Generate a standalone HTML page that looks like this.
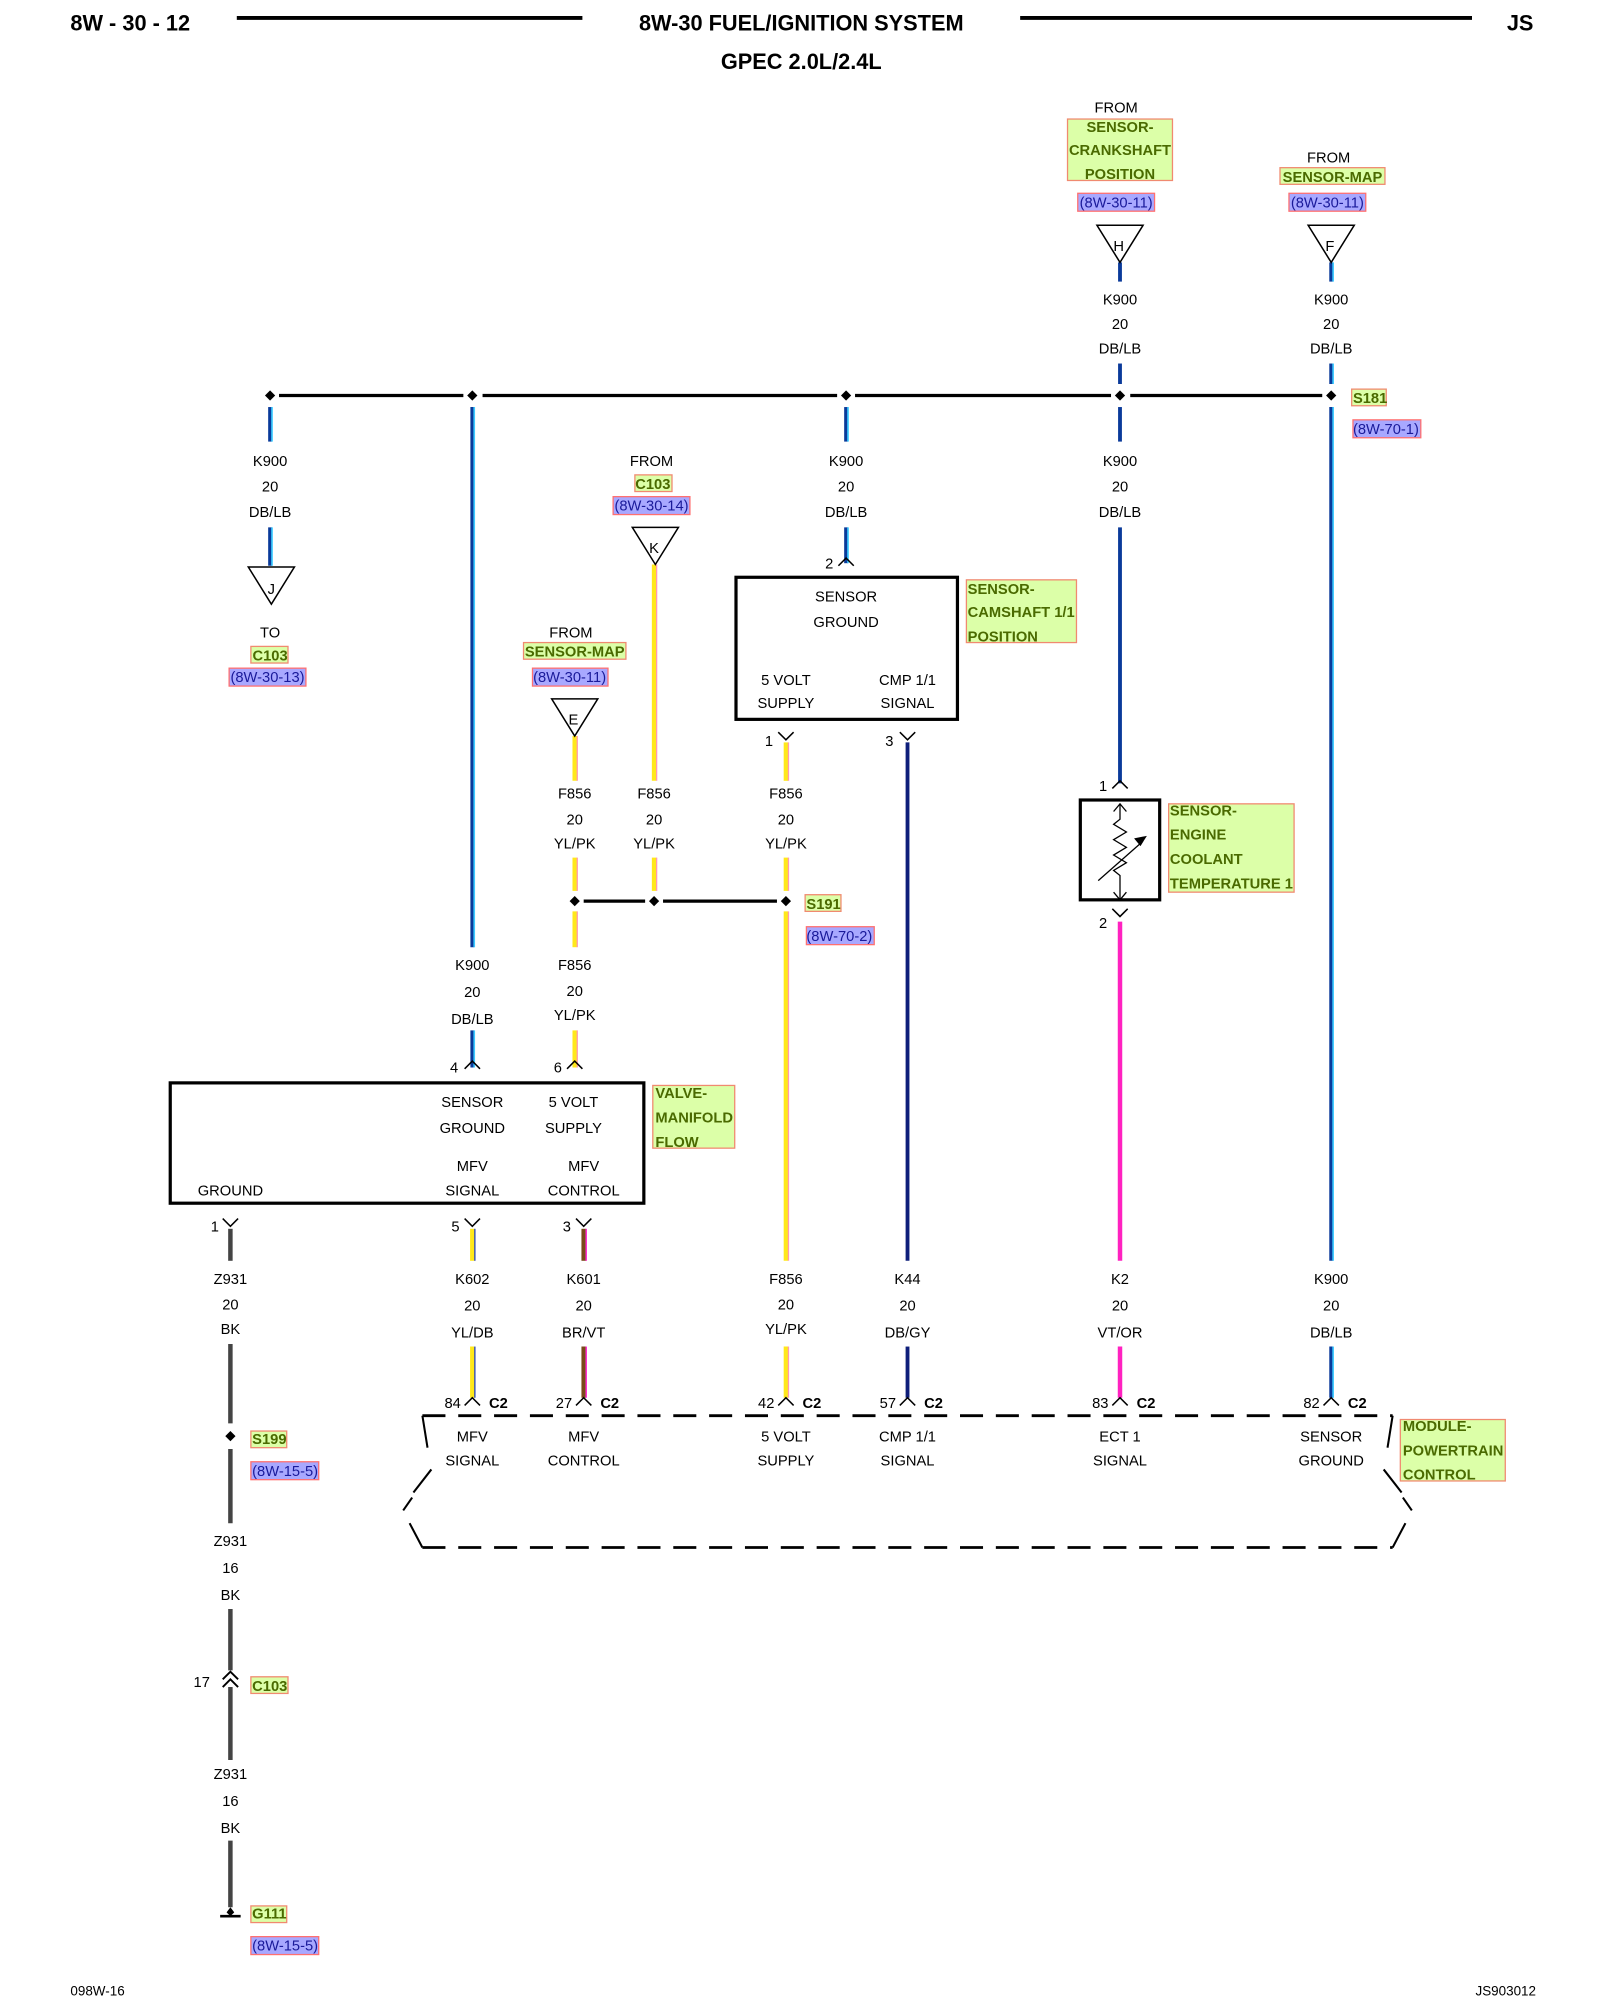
<!DOCTYPE html>
<html><head><meta charset="utf-8"><style>
html,body{margin:0;padding:0;background:#fff;}
svg{display:block;}
text{font-family:"Liberation Sans",Arial,sans-serif;font-size:11.5px;fill:#000;text-anchor:middle;}
.h{font-weight:bold;font-size:17px;}
.g{font-weight:bold;fill:#4a6a00;text-anchor:start;}
.gc{font-weight:bold;fill:#4a6a00;}
.b{fill:#1a1a9a;text-anchor:start;}
.bc{fill:#1a1a9a;}
.l{text-anchor:start;}
.e{text-anchor:end;}
.c2{font-weight:bold;text-anchor:start;}
.gr{fill:#dcffa8;stroke:#f08a70;stroke-width:1;}
.br{fill:#a8a8ff;stroke:#ff7070;stroke-width:1;}
.k{stroke:#000;fill:none;}
</style></head><body>
<svg width="1600" height="2000" viewBox="0 0 1250 1562.5" preserveAspectRatio="none" xmlns="http://www.w3.org/2000/svg">
<text x="55" y="24" class="h" style="text-anchor:start">8W - 30 - 12</text>
<line x1="185" y1="14" x2="455" y2="14" stroke="#000" stroke-width="3"/>
<text x="626" y="24" class="h">8W-30 FUEL/IGNITION SYSTEM</text>
<line x1="797" y1="14" x2="1150" y2="14" stroke="#000" stroke-width="3"/>
<text x="1198" y="24" class="h" style="text-anchor:end">JS</text>
<text x="626" y="54" class="h">GPEC 2.0L/2.4L</text>

<g stroke="#000" stroke-width="2.5">
<line x1="218" y1="309" x2="362" y2="309"/>
<line x1="377" y1="309" x2="654" y2="309"/>
<line x1="668" y1="309" x2="868" y2="309"/>
<line x1="883" y1="309" x2="1033" y2="309"/>
<line x1="456" y1="704" x2="504" y2="704"/>
<line x1="518" y1="704" x2="607" y2="704"/>
</g>
<g fill="#000">
<path d="M211 305l4 4-4 4-4-4z"/><path d="M369 305l4 4-4 4-4-4z"/><path d="M661 305l4 4-4 4-4-4z"/>
<path d="M875 305l4 4-4 4-4-4z"/><path d="M1040 305l4 4-4 4-4-4z"/>
<path d="M449 700l4 4-4 4-4-4z"/><path d="M511 700l4 4-4 4-4-4z"/><path d="M614 700l4 4-4 4-4-4z"/>
<path d="M180 1118l4 4-4 4-4-4z"/>
</g>

<g stroke="#0a3a9a" stroke-width="3">
<line x1="875" y1="205" x2="875" y2="220"/><line x1="875" y1="284" x2="875" y2="300"/>
<line x1="1040" y1="205" x2="1040" y2="220"/><line x1="1040" y1="284" x2="1040" y2="300"/>
<line x1="211" y1="318" x2="211" y2="345"/><line x1="211" y1="412" x2="211" y2="442"/>
<line x1="369" y1="318" x2="369" y2="740"/><line x1="369" y1="805" x2="369" y2="834"/>
<line x1="661" y1="318" x2="661" y2="345"/><line x1="661" y1="412" x2="661" y2="440"/>
<line x1="875" y1="318" x2="875" y2="345"/><line x1="875" y1="412" x2="875" y2="612"/>
<line x1="1040" y1="318" x2="1040" y2="985"/><line x1="1040" y1="1052" x2="1040" y2="1092"/>
</g>
<g stroke="#3ccaff" stroke-width="1.3">
<line x1="1041.5" y1="205" x2="1041.5" y2="220"/><line x1="1041.5" y1="284" x2="1041.5" y2="300"/>
<line x1="212.5" y1="318" x2="212.5" y2="345"/><line x1="212.5" y1="412" x2="212.5" y2="442"/>
<line x1="370.5" y1="318" x2="370.5" y2="740"/><line x1="370.5" y1="805" x2="370.5" y2="834"/>
<line x1="662.5" y1="318" x2="662.5" y2="345"/><line x1="662.5" y1="412" x2="662.5" y2="440"/>
<line x1="1041.5" y1="318" x2="1041.5" y2="985"/><line x1="1041.5" y1="1052" x2="1041.5" y2="1092"/>
</g>
<g stroke="#ffe81a" stroke-width="3.5">
<line x1="511" y1="441" x2="511" y2="610"/><line x1="511" y1="670" x2="511" y2="696"/>
<line x1="449" y1="575" x2="449" y2="610"/><line x1="449" y1="670" x2="449" y2="696"/><line x1="449" y1="712" x2="449" y2="740"/><line x1="449" y1="805" x2="449" y2="834"/>
<line x1="614" y1="580" x2="614" y2="610"/><line x1="614" y1="670" x2="614" y2="696"/><line x1="614" y1="712" x2="614" y2="985"/><line x1="614" y1="1052" x2="614" y2="1092"/>
</g>
<g stroke="#ff9ab0" stroke-width="1">
<line x1="513" y1="441" x2="513" y2="610"/><line x1="513" y1="670" x2="513" y2="696"/>
<line x1="451" y1="575" x2="451" y2="610"/><line x1="451" y1="670" x2="451" y2="696"/><line x1="451" y1="712" x2="451" y2="740"/><line x1="451" y1="805" x2="451" y2="834"/>
<line x1="616" y1="580" x2="616" y2="610"/><line x1="616" y1="670" x2="616" y2="696"/><line x1="616" y1="712" x2="616" y2="985"/><line x1="616" y1="1052" x2="616" y2="1092"/>
</g>
<g stroke="#0e1e7a" stroke-width="3"><line x1="709" y1="580" x2="709" y2="985"/><line x1="709" y1="1052" x2="709" y2="1092"/></g>
<g stroke="#ff22c0" stroke-width="3.5"><line x1="875" y1="720" x2="875" y2="985"/><line x1="875" y1="1052" x2="875" y2="1092"/></g>
<g stroke="#ffe81a" stroke-width="3.5"><line x1="369" y1="960" x2="369" y2="985"/><line x1="369" y1="1052" x2="369" y2="1092"/></g>
<g stroke="#2040c0" stroke-width="1"><line x1="371" y1="960" x2="371" y2="985"/><line x1="371" y1="1052" x2="371" y2="1092"/></g>
<g stroke="#7a4a1a" stroke-width="3.5"><line x1="456" y1="960" x2="456" y2="985"/><line x1="456" y1="1052" x2="456" y2="1092"/></g>
<g stroke="#ff30d0" stroke-width="1.2"><line x1="458" y1="960" x2="458" y2="985"/><line x1="458" y1="1052" x2="458" y2="1092"/></g>
<g stroke="#444" stroke-width="3.5">
<line x1="180" y1="960" x2="180" y2="985"/><line x1="180" y1="1050" x2="180" y2="1112"/><line x1="180" y1="1132" x2="180" y2="1190"/>
<line x1="180" y1="1257" x2="180" y2="1305"/><line x1="180" y1="1318" x2="180" y2="1375"/><line x1="180" y1="1438" x2="180" y2="1490"/>
</g>
<path d="M172 1497h16" stroke="#000" stroke-width="2"/><path d="M180 1490l3 4-3 3-3-3z" fill="#000"/>
<path class="k" stroke-width="1.5" d="M174 1312l6-6 6 6M174 1318l6-6 6 6"/>
<text x="164" y="1318" class="e">17</text>

<g class="k" stroke-width="1.2">
<path d="M857 176h36l-18 29z"/><path d="M1022 176h36l-18 29z"/>
<path d="M194 443h36l-18 29z"/><path d="M494 412h36l-18 29z"/><path d="M431 546h36l-18 29z"/>
</g>
<text x="874" y="196">H</text><text x="1039" y="196">F</text><text x="212" y="464">J</text><text x="511" y="432">K</text><text x="448" y="566">E</text>

<g class="k" stroke-width="1.2">
<path d="M655 442l6-6 6 6"/>
<path d="M608 572l6 6 6-6"/><path d="M703 572l6 6 6-6"/>
<path d="M869 616l6-6 6 6"/><path d="M869 710l6 6 6-6"/>
<path d="M363 835l6-6 6 6"/><path d="M443 835l6-6 6 6"/>
<path d="M174 952l6 6 6-6"/><path d="M363 952l6 6 6-6"/><path d="M450 952l6 6 6-6"/>
<path d="M363 1098l6-6 6 6"/><path d="M450 1098l6-6 6 6"/><path d="M608 1098l6-6 6 6"/><path d="M703 1098l6-6 6 6"/><path d="M869 1098l6-6 6 6"/><path d="M1034 1098l6-6 6 6"/>
</g>
<text x="651" y="444" class="e">2</text><text x="604" y="583" class="e">1</text><text x="698" y="583" class="e">3</text>
<text x="865" y="618" class="e">1</text><text x="865" y="725" class="e">2</text>
<text x="358" y="838" class="e">4</text><text x="439" y="838" class="e">6</text>
<text x="171" y="962" class="e">1</text><text x="359" y="962" class="e">5</text><text x="446" y="962" class="e">3</text>
<text x="360" y="1100" class="e">84</text><text x="447" y="1100" class="e">27</text><text x="605" y="1100" class="e">42</text><text x="700" y="1100" class="e">57</text><text x="866" y="1100" class="e">83</text><text x="1031" y="1100" class="e">82</text>
<text x="382" y="1100" class="c2">C2</text><text x="469" y="1100" class="c2">C2</text><text x="627" y="1100" class="c2">C2</text><text x="722" y="1100" class="c2">C2</text><text x="888" y="1100" class="c2">C2</text><text x="1053" y="1100" class="c2">C2</text>

<rect x="575" y="451" width="173" height="111" class="k" stroke-width="2.5"/>
<rect x="133" y="846" width="370" height="94" class="k" stroke-width="2.5"/>
<rect x="844" y="625" width="62" height="78" class="k" stroke-width="2.5"/>
<g class="k" stroke-width="1">
<path d="M875 628v12l-5 4 10 6-10 6 10 6-10 6 10 6-10 6 5 4v20"/>
<path d="M870 634l5-6 5 6M870 697l5 6 5-6"/>
<path d="M858 688l34-30"/>
</g>
<path d="M896 653l-10 2 5 6z" fill="#000"/>
<g class="k" stroke-width="2.2" stroke-dasharray="18,10">
<path d="M330 1106H1088"/><path d="M330 1209H1088"/>
</g>
<g class="k" stroke-width="1.6">
<path d="M330 1106l4 25M337 1148l-14 18M322 1170l-7 10M320 1190l10 19"/>
<path d="M1088 1106l-4 25M1081 1148l14 18M1096 1170l7 10M1098 1190l-10 19"/>
</g>

<text x="661" y="470">SENSOR</text><text x="661" y="490">GROUND</text>
<text x="614" y="535">5 VOLT</text><text x="614" y="553">SUPPLY</text>
<text x="709" y="535">CMP 1/1</text><text x="709" y="553">SIGNAL</text>
<text x="369" y="865">SENSOR</text><text x="369" y="885">GROUND</text>
<text x="448" y="865">5 VOLT</text><text x="448" y="885">SUPPLY</text>
<text x="369" y="915">MFV</text><text x="369" y="934">SIGNAL</text>
<text x="456" y="915">MFV</text><text x="456" y="934">CONTROL</text>
<text x="180" y="934">GROUND</text>
<text x="369" y="1126">MFV</text><text x="369" y="1145">SIGNAL</text>
<text x="456" y="1126">MFV</text><text x="456" y="1145">CONTROL</text>
<text x="614" y="1126">5 VOLT</text><text x="614" y="1145">SUPPLY</text>
<text x="709" y="1126">CMP 1/1</text><text x="709" y="1145">SIGNAL</text>
<text x="875" y="1126">ECT 1</text><text x="875" y="1145">SIGNAL</text>
<text x="1040" y="1126">SENSOR</text><text x="1040" y="1145">GROUND</text>

<g>
<text x="875" y="238">K900</text><text x="875" y="257">20</text><text x="875" y="276">DB/LB</text>
<text x="1040" y="238">K900</text><text x="1040" y="257">20</text><text x="1040" y="276">DB/LB</text>
<text x="211" y="364">K900</text><text x="211" y="384">20</text><text x="211" y="404">DB/LB</text>
<text x="661" y="364">K900</text><text x="661" y="384">20</text><text x="661" y="404">DB/LB</text>
<text x="875" y="364">K900</text><text x="875" y="384">20</text><text x="875" y="404">DB/LB</text>
<text x="449" y="624">F856</text><text x="449" y="644">20</text><text x="449" y="663">YL/PK</text>
<text x="511" y="624">F856</text><text x="511" y="644">20</text><text x="511" y="663">YL/PK</text>
<text x="614" y="624">F856</text><text x="614" y="644">20</text><text x="614" y="663">YL/PK</text>
<text x="369" y="758">K900</text><text x="369" y="779">20</text><text x="369" y="800">DB/LB</text>
<text x="449" y="758">F856</text><text x="449" y="778">20</text><text x="449" y="797">YL/PK</text>
<text x="180" y="1003">Z931</text><text x="180" y="1023">20</text><text x="180" y="1042">BK</text>
<text x="369" y="1003">K602</text><text x="369" y="1024">20</text><text x="369" y="1045">YL/DB</text>
<text x="456" y="1003">K601</text><text x="456" y="1024">20</text><text x="456" y="1045">BR/VT</text>
<text x="614" y="1003">F856</text><text x="614" y="1023">20</text><text x="614" y="1042">YL/PK</text>
<text x="709" y="1003">K44</text><text x="709" y="1024">20</text><text x="709" y="1045">DB/GY</text>
<text x="875" y="1003">K2</text><text x="875" y="1024">20</text><text x="875" y="1045">VT/OR</text>
<text x="1040" y="1003">K900</text><text x="1040" y="1024">20</text><text x="1040" y="1045">DB/LB</text>
<text x="180" y="1208">Z931</text><text x="180" y="1229">16</text><text x="180" y="1250">BK</text>
<text x="180" y="1390">Z931</text><text x="180" y="1411">16</text><text x="180" y="1432">BK</text>
</g>

<text x="872" y="88">FROM</text>
<rect x="834" y="93" width="82" height="48" class="gr"/>
<text x="875" y="103" class="gc">SENSOR-</text><text x="875" y="121" class="gc">CRANKSHAFT</text><text x="875" y="140" class="gc">POSITION</text>
<rect x="842" y="151" width="60" height="14" class="br"/><text x="872" y="162" class="bc">(8W-30-11)</text>
<text x="1038" y="127">FROM</text>
<rect x="1000" y="131" width="82" height="13" class="gr"/><text x="1041" y="142" class="gc">SENSOR-MAP</text>
<rect x="1007" y="151" width="60" height="14" class="br"/><text x="1037" y="162" class="bc">(8W-30-11)</text>
<rect x="1056" y="304" width="27" height="13" class="gr"/><text x="1057" y="315" class="g">S181</text>
<rect x="1057" y="328" width="53" height="14" class="br"/><text x="1057" y="339" class="b">(8W-70-1)</text>
<text x="211" y="498">TO</text>
<rect x="196" y="505" width="29" height="13" class="gr"/><text x="211" y="516" class="gc">C103</text>
<rect x="179" y="522" width="60" height="14" class="br"/><text x="209" y="533" class="bc">(8W-30-13)</text>
<text x="509" y="364">FROM</text>
<rect x="496" y="371" width="29" height="13" class="gr"/><text x="510" y="382" class="gc">C103</text>
<rect x="479" y="388" width="60" height="14" class="br"/><text x="509" y="399" class="bc">(8W-30-14)</text>
<text x="446" y="498">FROM</text>
<rect x="409" y="502" width="80" height="13" class="gr"/><text x="449" y="513" class="gc">SENSOR-MAP</text>
<rect x="416" y="522" width="59" height="14" class="br"/><text x="445" y="533" class="bc">(8W-30-11)</text>
<rect x="755" y="453" width="86" height="49" class="gr"/>
<text x="756" y="464" class="g">SENSOR-</text><text x="756" y="482" class="g">CAMSHAFT 1/1</text><text x="756" y="501" class="g">POSITION</text>
<rect x="629" y="699" width="28" height="13" class="gr"/><text x="630" y="710" class="g">S191</text>
<rect x="630" y="724" width="53" height="14" class="br"/><text x="630" y="735" class="b">(8W-70-2)</text>
<rect x="913" y="628" width="98" height="69" class="gr"/>
<text x="914" y="637" class="g">SENSOR-</text><text x="914" y="656" class="g">ENGINE</text><text x="914" y="675" class="g">COOLANT</text><text x="914" y="694" class="g">TEMPERATURE 1</text>
<rect x="510" y="848" width="64" height="49" class="gr"/>
<text x="512" y="858" class="g">VALVE-</text><text x="512" y="877" class="g">MANIFOLD</text><text x="512" y="896" class="g">FLOW</text>
<rect x="1094" y="1109" width="82" height="48" class="gr"/>
<text x="1096" y="1118" class="g">MODULE-</text><text x="1096" y="1137" class="g">POWERTRAIN</text><text x="1096" y="1156" class="g">CONTROL</text>
<rect x="196" y="1118" width="28" height="13" class="gr"/><text x="197" y="1128" class="g">S199</text>
<rect x="196" y="1142" width="53" height="14" class="br"/><text x="197" y="1153" class="b">(8W-15-5)</text>
<rect x="196" y="1310" width="29" height="13" class="gr"/><text x="197" y="1321" class="g">C103</text>
<rect x="196" y="1489" width="28" height="13" class="gr"/><text x="197" y="1499" class="g">G111</text>
<rect x="196" y="1513" width="53" height="14" class="br"/><text x="197" y="1524" class="b">(8W-15-5)</text>

<text x="55" y="1559" class="l" style="font-size:10.5px">098W-16</text>
<text x="1200" y="1559" class="e" style="font-size:10.5px">JS903012</text>
</svg>
</body></html>
